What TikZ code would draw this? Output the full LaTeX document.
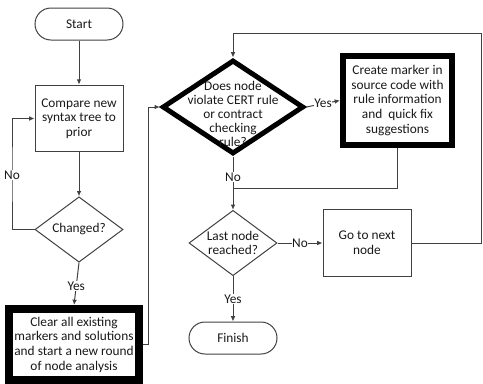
\documentclass[tikz,border=0pt]{standalone}
\usepackage{fontspec}
\setmainfont{Carlito}
\usetikzlibrary{shapes.geometric,arrows.meta}

\begin{document}
\begin{tikzpicture}[x=0.75pt,y=-0.75pt,
    font=\fontsize{10}{11}\selectfont,
    every node/.style={text=black!90},
    terminal/.style={draw=black!75,line width=0.75pt,rectangle,rounded corners=12pt,minimum width=66pt,minimum height=24pt,inner sep=0pt},
    process/.style={draw=black!75,line width=0.75pt,rectangle,minimum width=66pt,minimum height=50pt,inner sep=1pt,align=center},
    decision/.style={draw=black!75,line width=0.75pt,diamond,aspect=1.35,minimum width=66pt,minimum height=49pt,inner sep=0pt,align=center},
    heavy/.style={draw=black,rectangle,inner sep=1pt,align=center},
    flow/.style={draw=black!75,line width=0.75pt,-{Latex[length=4pt,width=3.5pt]}},
    link/.style={draw=black!75,line width=0.75pt},
    lbl/.style={fill=white,inner sep=0.5pt}]
    \useasboundingbox (0,0) rectangle (483,383);

    % Left column
    \node[terminal] (start) at (79,24) {Start};
    \node[process] (compare) at (79,118.5) {Compare new\\syntax tree to\\prior};
    \node[decision] (changed) at (79,229.5) {Changed?};
    \node[heavy,line width=6pt,minimum width=97.5pt,minimum height=53.25pt] (clear) at (74,344.5)
        {Clear all existing\\markers and solutions\\and start a new round\\of node analysis};

    % Right part
    \node[diamond,draw=black,line width=3.75pt,minimum width=106pt,minimum height=70.5pt,inner sep=0pt] (cert) at (233,107) {};
    \node[align=center,font=\fontsize{10}{10.5}\selectfont] (certq) at (233,114)
        {Does node\\violate CERT rule\\or contract\\checking\\rule?};
    \node[heavy,line width=4.5pt,minimum width=81.75pt,minimum height=66.75pt] (create) at (397.5,100.5)
        {Create marker in\\source code with\\rule information\\and~ quick fix\\suggestions};
    \node[decision] (last) at (233,243) {Last node\\reached?};
    \node[process] (next) at (367,243) {Go to next\\node};
    \node[terminal] (finish) at (233,338) {Finish};

    % Corner points
    \coordinate (loop) at (12,175);
    \coordinate (rise) at (148,107);
    \coordinate (join) at (233,188);
    \coordinate (corner) at (481,33);

    % Connectors
    \draw[flow] (start) -- (compare);
    \draw[flow] (compare) -- (changed);
    \draw[flow] (changed.west) -| (loop) node[lbl] (no1) {No} |- (compare.west);
    \draw[flow] (changed.south) -- node[lbl,pos=0.55] (yes1) {Yes} (clear.north);
    \draw[flow] (clear.east) -| (rise) -- (cert.west);
    \draw[flow] (cert.east) -- node[lbl] (yes2) {Yes} (create.west);
    \draw[link] (create.south) |- (join);
    \draw[flow] (cert.south) -- node[lbl,pos=0.38] (no2) {No} (last.north);
    \draw[flow] (last.east) -- node[lbl] (no3) {No} (next.west);
    \draw[flow] (next.east) -| (corner) -| (cert.north);
    \draw[flow] (last.south) -- node[lbl] (yes3) {Yes} (finish.north);
\end{tikzpicture}
\end{document}
